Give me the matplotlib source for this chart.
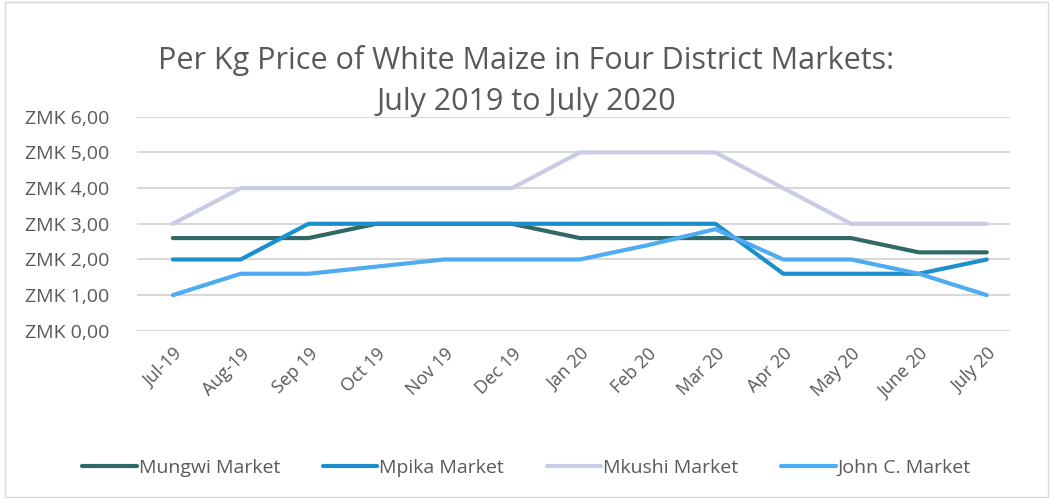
import matplotlib.pyplot as plt
from matplotlib.patches import Rectangle

plt.rcParams['font.family'] = ['Open Sans', 'DejaVu Sans']

months = ["Jul-19", "Aug-19", "Sep 19", "Oct 19", "Nov 19", "Dec 19", "Jan 20",
          "Feb 20", "Mar 20", "Apr 20", "May 20", "June 20", "July 20"]
mungwi = [2.6, 2.6, 2.6, 3.0, 3.0, 3.0, 2.6, 2.6, 2.6, 2.6, 2.6, 2.2, 2.2]
mpika = [2.0, 2.0, 3.0, 3.0, 3.0, 3.0, 3.0, 3.0, 3.0, 1.6, 1.6, 1.6, 2.0]
mkushi = [3.0, 4.0, 4.0, 4.0, 4.0, 4.0, 5.0, 5.0, 5.0, 4.0, 3.0, 3.0, 3.0]
john_c = [1.0, 1.6, 1.6, 1.8, 2.0, 2.0, 2.0, 2.4, 2.85, 2.0, 2.0, 1.6, 1.0]

series = [
    ("Mungwi Market", mungwi, "#316968"),
    ("Mpika Market", mpika, "#1b90cc"),
    ("Mkushi Market", mkushi, "#c9cce4"),
    ("John C. Market", john_c, "#50acf0"),
]

fig = plt.figure(figsize=(10.53, 4.99), dpi=100)
ax = fig.add_axes([0.130, 0.337, 0.829, 0.429])

x = list(range(len(months)))
for name, vals, col in series:
    ax.plot(x, vals, color=col, lw=3, label=name, solid_capstyle='round',
            solid_joinstyle='round')

ax.set_ylim(0, 6)
ax.set_xlim(-0.53, 12.34)
ax.set_yticks(range(7))
ax.set_yticklabels([f"ZMK {v},00" for v in range(7)], fontsize=14, color="#595959")
ax.set_xticks(x)
ax.set_xticklabels(months, rotation=45, ha='right', rotation_mode='anchor',
                   fontsize=13, color="#595959")
ax.tick_params(axis='y', length=0, pad=20)
ax.tick_params(axis='x', length=0, pad=10)
ax.grid(axis='y', color="#d9d9d9", lw=1.5)
ax.set_axisbelow(True)
for s in ax.spines.values():
    s.set_visible(False)

fig.text(0.5, 0.878, "Per Kg Price of White Maize in Four District Markets:",
         ha='center', va='center', fontsize=22, color="#595959")
fig.text(0.5, 0.795, "July 2019 to July 2020",
         ha='center', va='center', fontsize=22, color="#595959")

fig.legend(loc='center', bbox_to_anchor=(0.5, 0.062), ncol=4, frameon=False,
           fontsize=14, handlelength=2.8, handletextpad=0.1, columnspacing=2.2,
           labelcolor="#595959")

fig.patches.append(Rectangle((0.005, 0.005), 0.99, 0.99, transform=fig.transFigure,
                             fill=False, edgecolor="#d9d9d9", lw=1))

plt.savefig("out.png", dpi=100)
